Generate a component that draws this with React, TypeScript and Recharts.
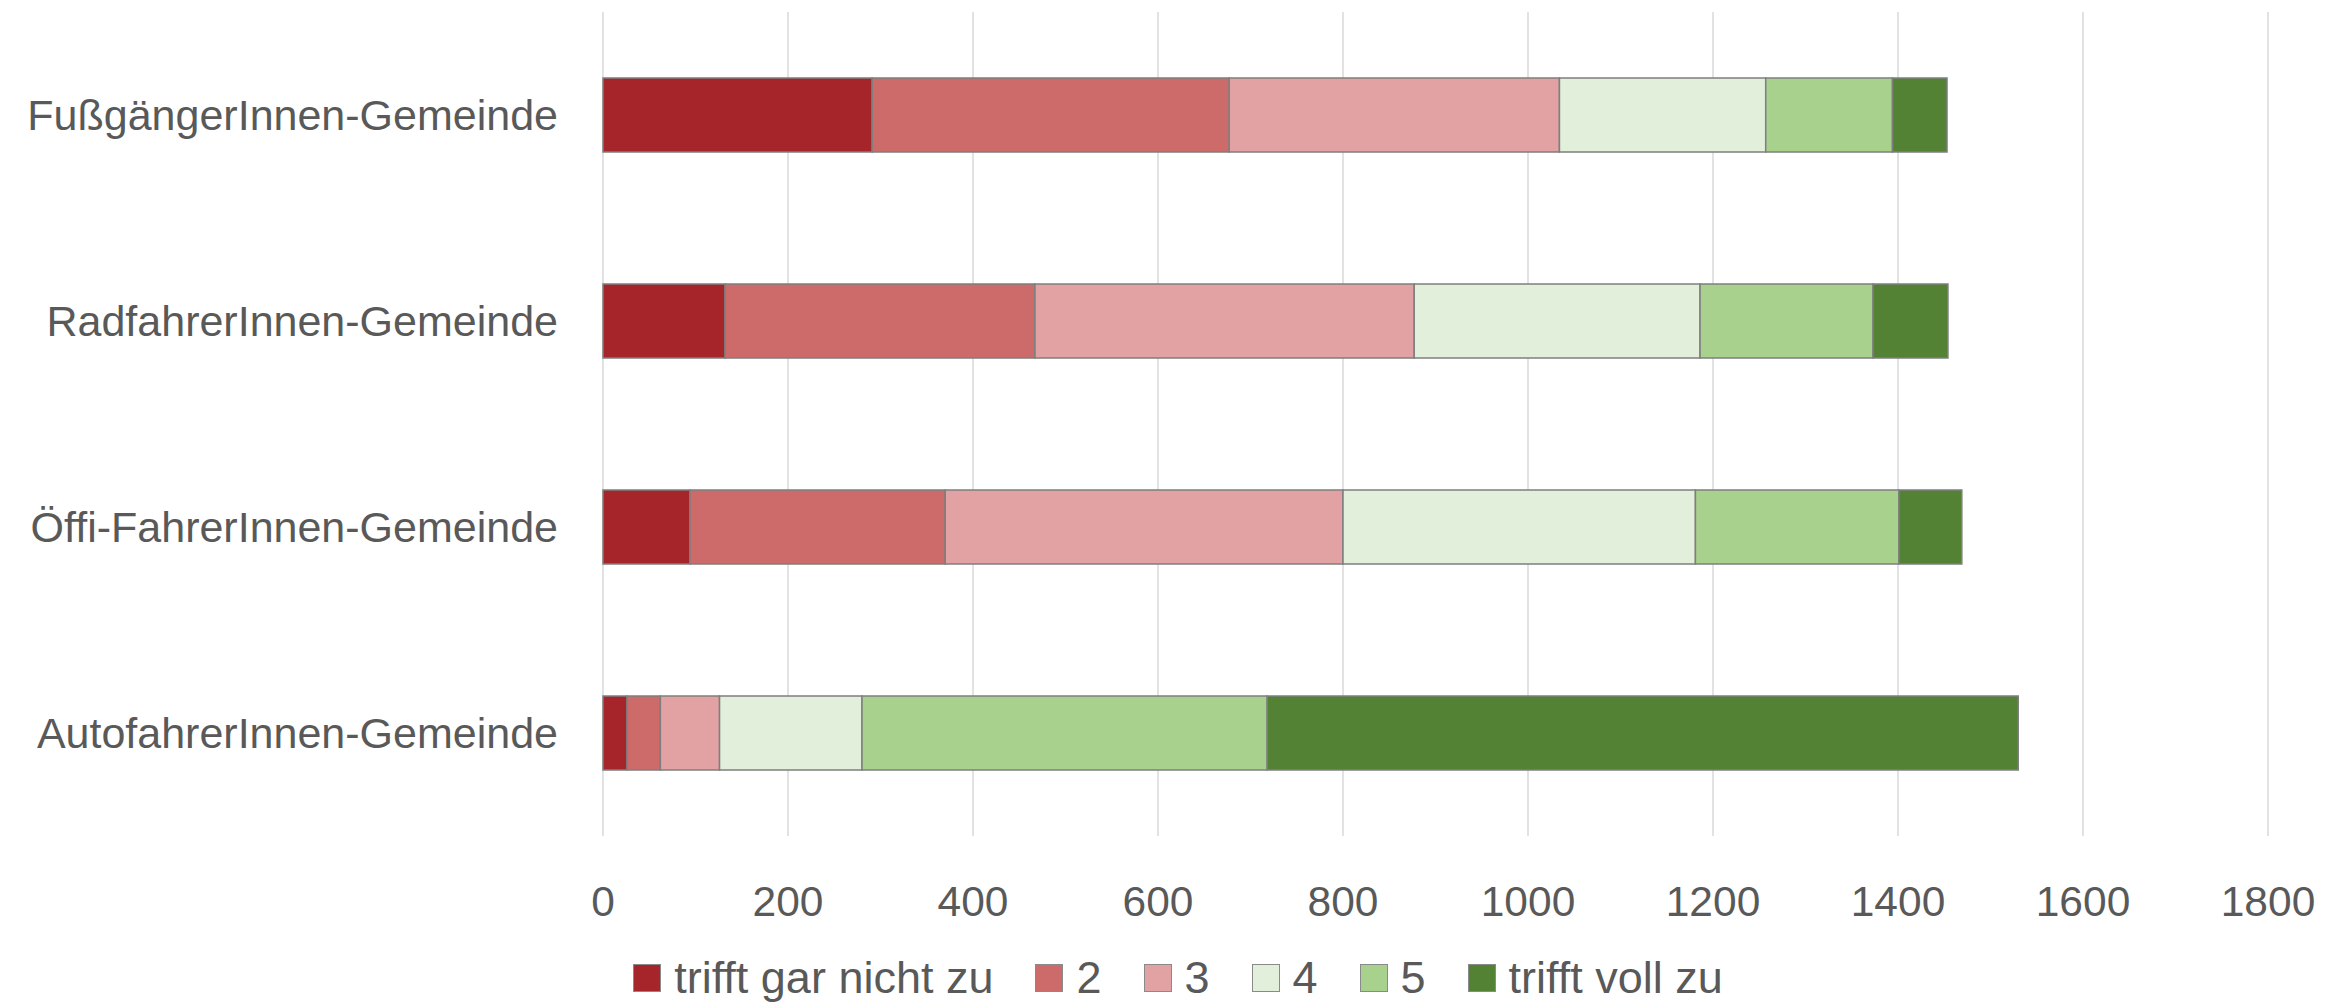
import React from 'react';
import { BarChart, Bar, XAxis, YAxis, CartesianGrid, Legend } from 'recharts';

const categories = [
  'FußgängerInnen-Gemeinde',
  'RadfahrerInnen-Gemeinde',
  'Öffi-FahrerInnen-Gemeinde',
  'AutofahrerInnen-Gemeinde',
];

const seriesNames = ['trifft gar nicht zu', '2', '3', '4', '5', 'trifft voll zu'];
const seriesColors = ['#A5252A', '#CD6A6A', '#E2A1A2', '#E2EFDA', '#A9D18E', '#548235'];

// values per series, one entry per category (same order as categories)
const s1 = [291, 132, 94, 26];
const s2 = [386, 335, 276, 36];
const s3 = [357, 410, 430, 64];
const s4 = [223, 309, 381, 154];
const s5 = [137, 187, 220, 438];
const s6 = [59, 81, 68, 812];

const xTicks = [0, 200, 400, 600, 800, 1000, 1200, 1400, 1600, 1800];

const seriesValues = [s1, s2, s3, s4, s5, s6];
const data = categories.map((name, i) => {
  const row: Record<string, string | number> = { name };
  seriesNames.forEach((s, k) => {
    row[s] = seriesValues[k][i];
  });
  return row;
});

const FONT = '"Liberation Sans", Arial, sans-serif';
const TEXT = '#595959';

function LegendContent() {
  return (
    <div
      style={{
        height: 76,
        boxSizing: 'border-box',
        paddingTop: 38,
        paddingLeft: 88,
        display: 'flex',
        justifyContent: 'center',
        fontFamily: FONT,
        fontSize: 45,
        color: TEXT,
      }}
    >
      {seriesNames.map((s, i) => (
        <div key={s} style={{ display: 'flex', alignItems: 'center', marginRight: i < seriesNames.length - 1 ? 42 : 0, height: 28 }}>
          <div
            style={{
              width: 26,
              height: 26,
              background: seriesColors[i],
              border: '1px solid #8a8a8a',
              marginRight: 13,
            }}
          />
          <span style={{ lineHeight: '28px' }}>{s}</span>
        </div>
      ))}
    </div>
  );
}

export default function App() {
  return (
    <div style={{ position: 'absolute', left: 0, top: 0, background: '#fff' }}>
      <BarChart
        width={2344}
        height={1002}
        data={data}
        layout="vertical"
        margin={{ top: 12, right: 76, left: 0, bottom: 0 }}
        barSize={74}
      >
        <CartesianGrid horizontal={false} stroke="#d9d9d9" strokeWidth={1.5} />
        <XAxis
          type="number"
          domain={[0, 1800]}
          ticks={xTicks}
          interval={0}
          axisLine={false}
          tickLine={false}
          tickSize={0}
          tickMargin={50}
          height={90}
          tick={{ fill: TEXT, fontSize: 42.5, fontFamily: FONT }}
        />
        <YAxis
          type="category"
          dataKey="name"
          width={603}
          axisLine={false}
          tickLine={false}
          tickSize={0}
          tickMargin={45}
          tick={{ fill: TEXT, fontSize: 43, fontFamily: FONT }}
        />
        <Legend verticalAlign="bottom" content={<LegendContent />} />
        {seriesNames.map((s, i) => (
          <Bar
            key={s}
            dataKey={s}
            stackId="a"
            fill={seriesColors[i]}
            stroke="#7f7f7f"
            strokeWidth={1.5}
            isAnimationActive={false}
          />
        ))}
      </BarChart>
    </div>
  );
}
